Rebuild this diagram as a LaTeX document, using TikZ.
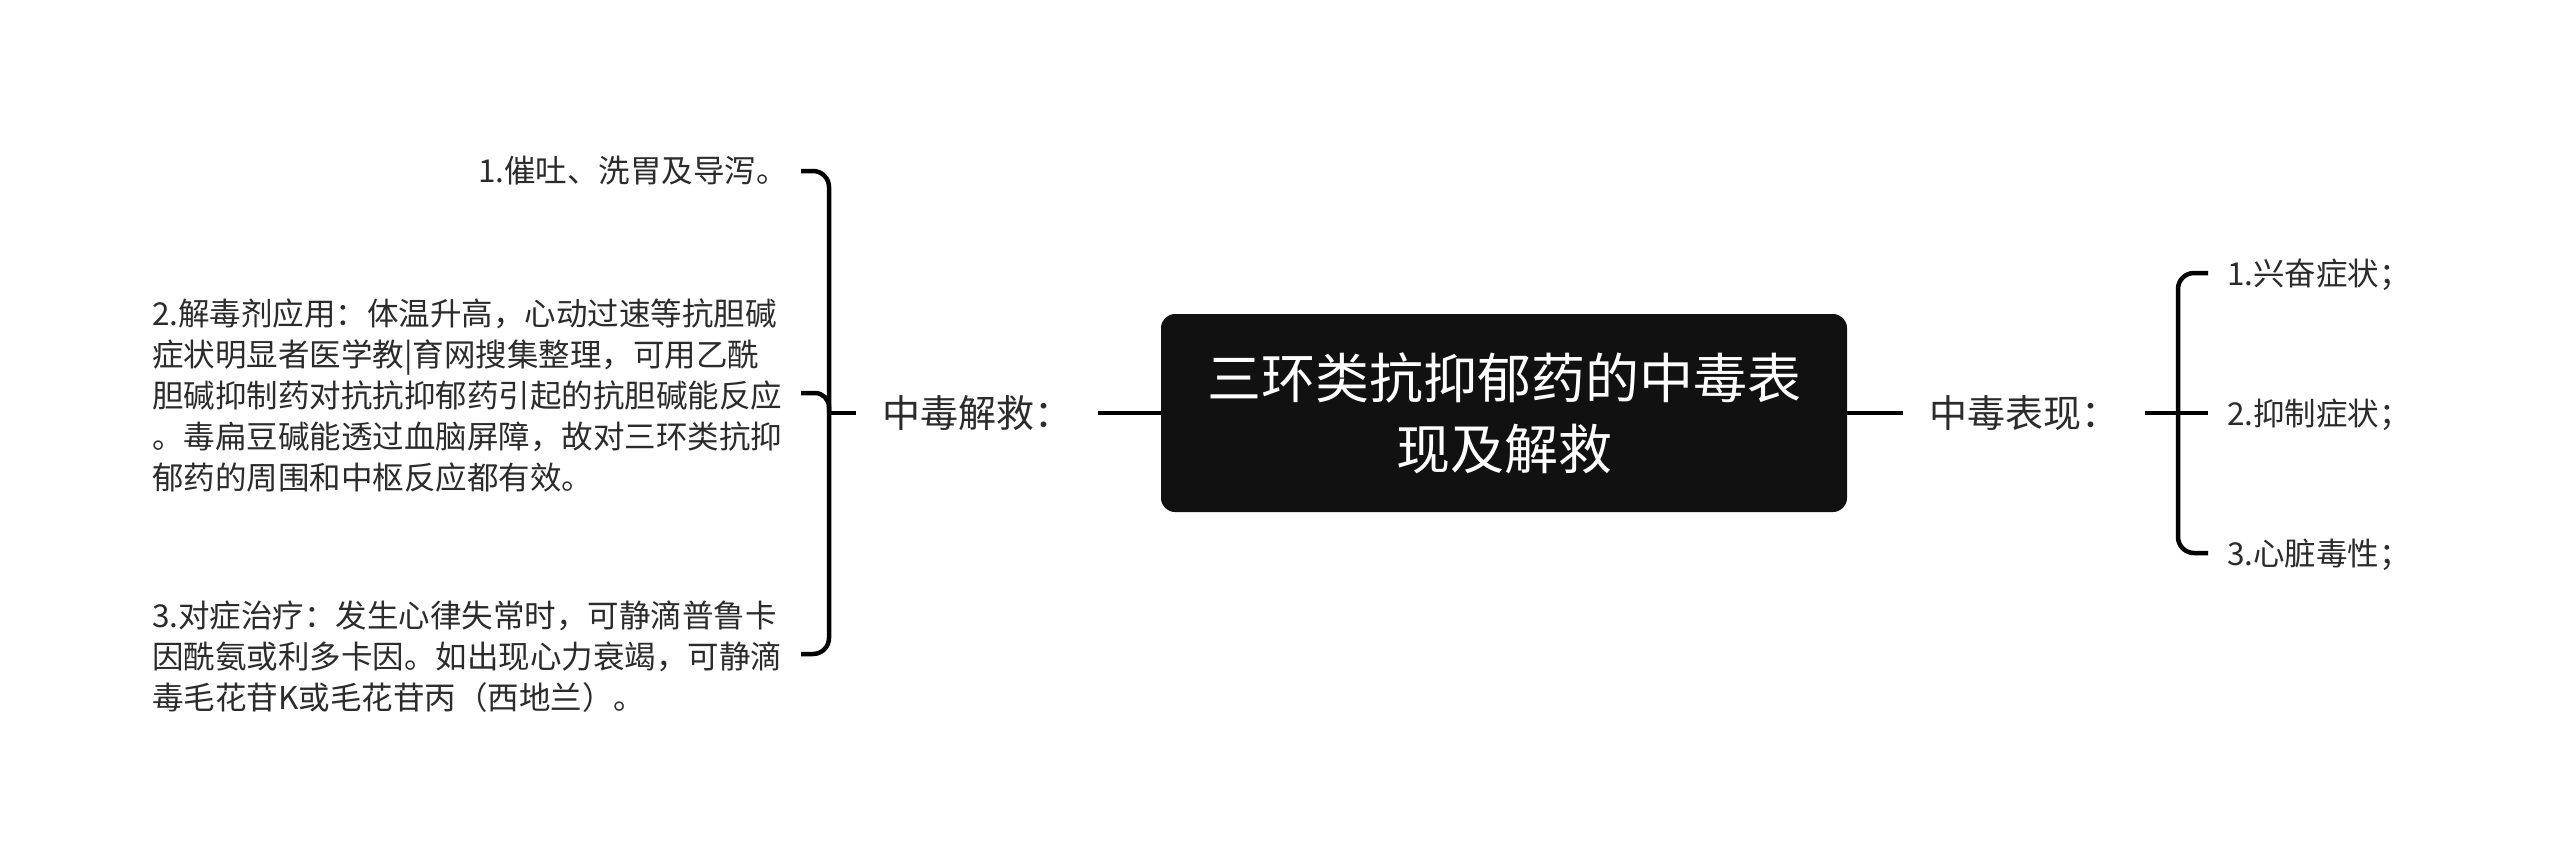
\documentclass[tikz,border=0pt]{standalone}
\usepackage{fontspec}
\setmainfont{Noto Sans CJK SC}
\definecolor{rootfill}{HTML}{111111}
\definecolor{txtgray}{HTML}{2B2B2B}
\begin{document}
\begin{tikzpicture}[x=1pt,y=-1pt,
  conn/.style={line width=4.5pt, black},
  itemtext/.style={inner sep=0pt, text=txtgray, font=\fontsize{31.5}{41}\selectfont, align=left},
  midtext/.style={inner xsep=26pt, inner ysep=0pt, text=txtgray, font=\fontsize{38}{46}\selectfont},
  roottext/.style={fill=rootfill, rounded corners=14pt, minimum width=686pt, minimum height=198pt, inner sep=0pt, text=white, align=center, font=\fontsize{54}{71}\selectfont}]
\useasboundingbox[fill=white] (0,0) rectangle (2560,867);

\node[roottext] (root) at (1504,413) {三环类抗抑郁药的中毒表\\现及解救};

\node[midtext, anchor=west] (zj) at (856,413) {中毒解救：};
\node[midtext, anchor=west] (zb) at (1903,413) {中毒表现：};

\node[itemtext, anchor=east] (l1) at (788,171) {1.催吐、洗胃及导泻。};
\node[itemtext, anchor=west] (l2) at (152,395) {2.解毒剂应用：体温升高，心动过速等抗胆碱\\症状明显者医学教|育网搜集整理，可用乙酰\\胆碱抑制药对抗抗抑郁药引起的抗胆碱能反应\\。毒扁豆碱能透过血脑屏障，故对三环类抗抑\\郁药的周围和中枢反应都有效。};
\node[itemtext, anchor=west] (l3) at (152,657) {3.对症治疗：发生心律失常时，可静滴普鲁卡\\因酰氨或利多卡因。如出现心力衰竭，可静滴\\毒毛花苷K或毛花苷丙（西地兰）。};

\node[itemtext, anchor=west] (r1) at (2227,275) {1.兴奋症状；};
\node[itemtext, anchor=west] (r2) at (2227,415) {2.抑制症状；};
\node[itemtext, anchor=west] (r3) at (2227,555) {3.心脏毒性；};

\coordinate (lv) at (829,413);
\coordinate (l1b) at (801,171);
\coordinate (l2b) at (801,393);
\coordinate (l3b) at (801,654);
\coordinate (rv) at (2178,413);
\coordinate (r1b) at (2208,273);
\coordinate (r2b) at (2208,413);
\coordinate (r3b) at (2208,553);

\draw[conn] (root.west) -- (zj.east);
\draw[conn] (zj.west) -- (lv);
\draw[conn, rounded corners=16pt] (l1b) -| (lv) |- (l3b);
\draw[conn, rounded corners=14pt] (l2b) -| (lv);

\draw[conn] (root.east) -- (zb.west);
\draw[conn] (zb.east) -- (rv) -- (r2b);
\draw[conn, rounded corners=16pt] (r1b) -| (rv) |- (r3b);
\end{tikzpicture}
\end{document}
